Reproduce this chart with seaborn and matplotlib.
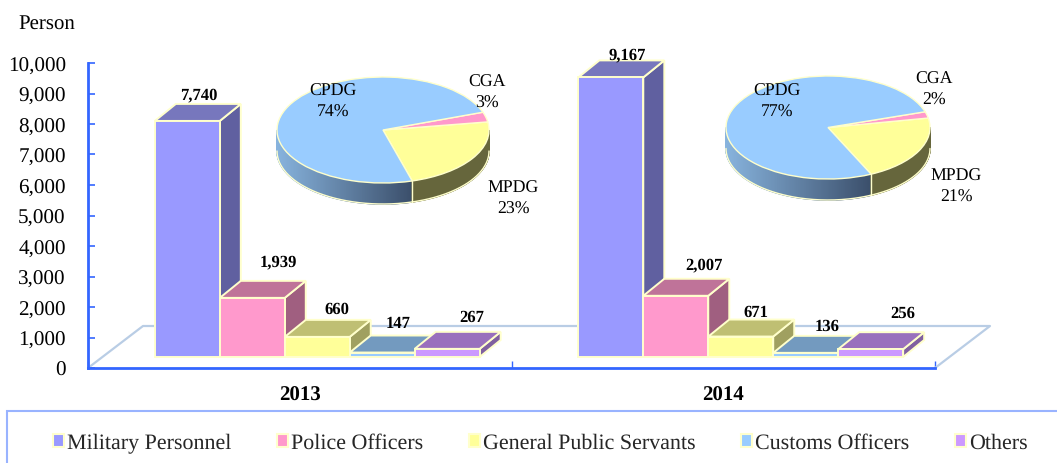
import numpy as np
import pandas as pd
import seaborn as sns
import matplotlib.pyplot as plt
from matplotlib.colors import to_rgb
from matplotlib.patches import Rectangle

W, H = 1057, 464

years = ['2013', '2014']
groups = ['Military Personnel', 'Police Officers', 'General Public Servants', 'Customs Officers', 'Others']
values_2013 = [7740, 1939, 660, 147, 267]
values_2014 = [9167, 2007, 671, 136, 256]

pie_labels = ['MPDG', 'CGA', 'CPDG']
pie_2013 = [23, 3, 74]
pie_2014 = [21, 2, 77]

front_colors = ['#9999FF', '#FF99CC', '#FFFF99', '#99CCFF', '#CC99FF']
top_colors = ['#7777BD', '#BF7399', '#BFBF73', '#739ABF', '#9970BD']
side_colors = ['#6060A0', '#A05F80', '#A0A060', '#6080A0', '#8060A0']
EDGE = '#FFFFCC'
AXIS_BLUE = '#3366FF'
FLOOR = '#B9CDE5'

# pixel offsets of the value labels from the back of each bar top
label_dx = [11, 26, 20, 16, 25, 16, 28, 15, 21, 32]
label_dy = [10, 20, 11, 13, 15, 6, 14, 8, 10, 19]

sns.set_theme(style='white')
plt.rcParams['font.family'] = ['Liberation Serif', 'DejaVu Serif']
plt.rcParams['text.hinting'] = 'no_hinting'


def px_rect(x0, y0, x1, y1):
    return [x0 / W, 1 - y1 / H, (x1 - x0) / W, (y1 - y0) / H]


def fig_text(fig, x, y, s, **kw):
    fig.text(x / W, 1 - y / H, s, va='center', color='black', **kw)


fig = plt.figure(figsize=(W / 100, H / 100), dpi=100, facecolor='white')
ax = fig.add_axes(px_rect(88, 64, 935, 369))

df = pd.DataFrame({
    'year': np.repeat(years, len(groups)),
    'group': groups * len(years),
    'value': values_2013 + values_2014,
})
sns.barplot(data=df, x='year', y='value', hue='group', order=years, hue_order=groups,
            palette=front_colors, width=0.767, gap=0, saturation=1, ax=ax, legend=False)

ax.set_xlim(-0.5, 1.5)
ax.set_ylim(0, 10000)
ax.set_xlabel('')
ax.set_ylabel('')

# size of one pixel in data units, the fake 3D depth is worked out from these
ux = 2 / 847
uy = 10000 / 305
dx, dy = 21 * ux, 17 * uy
shift_x, base_y = 17.5 * ux, 11 * uy

ax.plot([-0.5, -0.5 + 55 * ux, 1.5 + 55 * ux, 1.5], [0, 42 * uy, 42 * uy, 0],
        color=FLOOR, lw=1.6, clip_on=False, zorder=1)

bars = sorted([p for p in ax.patches if isinstance(p, Rectangle)], key=lambda p: p.get_x())
for i, bar in enumerate(bars):
    k = i % len(groups)
    bar.set_x(bar.get_x() + shift_x)
    bar.set_y(base_y)
    bar.set_edgecolor(EDGE)
    bar.set_linewidth(1.4)
    bar.set_zorder(3 + i * 0.1 + 0.05)
    bar.set_clip_on(False)
    x0, x1 = bar.get_x(), bar.get_x() + bar.get_width()
    y0, y1 = base_y, base_y + bar.get_height()
    z = 3 + i * 0.1
    ax.fill([x1, x1 + dx, x1 + dx, x1], [y0, y0 + dy, y1 + dy, y1], fc=side_colors[k],
            ec=EDGE, lw=1.4, zorder=z, clip_on=False)
    ax.fill([x0, x0 + dx, x1 + dx, x1], [y1, y1 + dy, y1 + dy, y1], fc=top_colors[k],
            ec=EDGE, lw=1.4, zorder=z, clip_on=False)
    ax.annotate(f'{bar.get_height():,.0f}', (x0 + bar.get_width() / 2, y1 + dy),
                xytext=(label_dx[i] * 0.72, label_dy[i] * 0.72), textcoords='offset points',
                ha='center', va='center', fontsize=12, fontweight='bold', color='black',
                zorder=10, annotation_clip=False)

for side in ['top', 'right']:
    ax.spines[side].set_visible(False)
for side in ['left', 'bottom']:
    ax.spines[side].set_color(AXIS_BLUE)
    ax.spines[side].set_linewidth(2)

ax.set_yticks(range(0, 10001, 1000))
ax.set_yticklabels([f'{v:,}' for v in range(0, 10001, 1000)])
ax.tick_params(axis='y', direction='in', length=5, width=1.2, color=AXIS_BLUE,
               left=True, pad=16, labelsize=15.2, labelcolor='black')
ax.set_xticks([-0.5, 0.5, 1.5], minor=True)
ax.tick_params(axis='x', which='minor', direction='in', length=5, width=1, color=AXIS_BLUE, bottom=True)
ax.tick_params(axis='x', which='major', bottom=False, pad=6.5, labelcolor='black')
for label in ax.get_xticklabels():
    label.set_fontsize(15)
    label.set_fontweight('bold')


def draw_pie(box, values, startangle):
    # box is left, top, right, bottom of the top ellipse in pixels
    depth_px = 21
    ry = (box[3] - box[1]) / 2
    pie_ax = fig.add_axes(px_rect(box[0], box[1], box[2], box[3]), facecolor='none')
    wedges, _ = pie_ax.pie(values, colors=['#FFFF99', '#FF99CC', '#99CCFF'], startangle=startangle,
                           radius=1, wedgeprops={'edgecolor': EDGE, 'linewidth': 1, 'zorder': 5})
    pie_ax.set_aspect('auto')
    pie_ax.set_xlim(-1, 1)
    pie_ax.set_ylim(-1, 1)
    for w in wedges:
        w.set_clip_on(False)

    depth = depth_px / ry
    angles = np.arange(180, 360.01, 0.5)
    end_blue = startangle % 360
    for a0, a1 in zip(angles[:-1], angles[1:]):
        t = np.radians([a0, a1])
        xs, ys = np.cos(t), np.sin(t)
        if a0 < end_blue:
            f = (xs[0] + 1) / (np.cos(np.radians(end_blue)) + 1)
            c = (1 - f) * np.array(to_rgb('#88B4DE')) + f * np.array(to_rgb('#3B4F6B'))
        else:
            c = to_rgb('#66663C')
        pie_ax.fill([xs[0], xs[1], xs[1], xs[0]], [ys[0], ys[1], ys[1] - depth, ys[0] - depth],
                    fc=c, ec=c, lw=1, zorder=2, clip_on=False)
    t = np.radians(angles)
    pie_ax.plot(np.cos(t), np.sin(t) - depth, color=EDGE, lw=1, zorder=3, clip_on=False)
    tt = np.radians(end_blue)
    pie_ax.plot([np.cos(tt)] * 2, [np.sin(tt), np.sin(tt) - depth], color=EDGE, lw=1,
                zorder=3, clip_on=False)


draw_pie((277, 78, 489, 184), pie_2013, -74)
draw_pie((726, 77, 930, 180), pie_2014, -65)

pie_font = dict(fontsize=12.8, ha='center', linespacing=1.35)
for x, y, name, pct in [(333, 102, pie_labels[2], pie_2013[2]), (487, 93, pie_labels[1], pie_2013[1]),
                        (513, 199, pie_labels[0], pie_2013[0]), (777, 102, pie_labels[2], pie_2014[2]),
                        (934, 90, pie_labels[1], pie_2014[1]), (956, 187, pie_labels[0], pie_2014[0])]:
    fig_text(fig, x, y, f'{name}\n{pct}%', **pie_font)

fig_text(fig, 18, 24, 'Person', fontsize=15, ha='left')

# legend box runs off the right and bottom of the picture
fig.add_artist(Rectangle((7 / W, -0.1), 1.1, 1 - 412 / H + 0.1, transform=fig.transFigure,
                         fc='white', ec='#99B3FF', lw=1.5, zorder=0))
handles = [Rectangle((0, 0), 1, 1, fc=c, ec=EDGE, lw=1.5) for c in front_colors]
fig.legend(handles, groups, loc='center left', bbox_to_anchor=(53 / W, 1 - 444 / H), ncol=5,
           frameon=False, fontsize=15.8, handlelength=0.5, handleheight=0.5, handletextpad=0.12,
           columnspacing=2.1, borderpad=0, borderaxespad=0)

fig.savefig('out.png', dpi=100)
plt.close('all')
